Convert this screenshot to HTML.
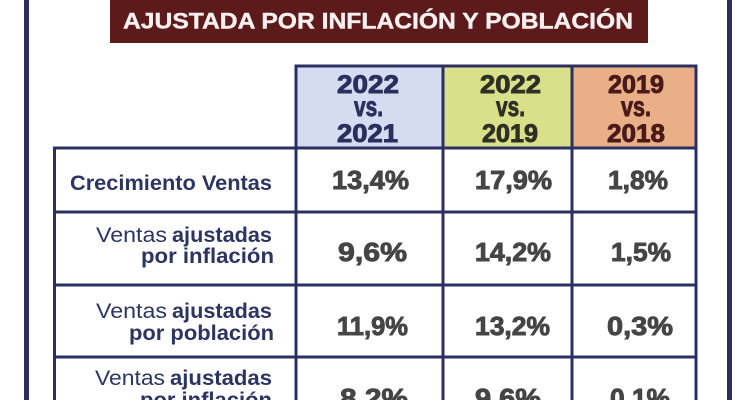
<!DOCTYPE html>
<html>
<head>
<meta charset="utf-8">
<style>
html,body{margin:0;padding:0;background:#ffffff;}
svg{display:block;}
text{font-family:"Liberation Sans",sans-serif;}
</style>
</head>
<body>
<svg width="750" height="400" viewBox="0 0 750 400" xmlns="http://www.w3.org/2000/svg">
  <rect x="0" y="0" width="750" height="400" fill="#ffffff"/>
  <!-- frame -->
  <rect x="24" y="0" width="5" height="400" fill="#2a2f5e"/>
  <rect x="727" y="0" width="5" height="400" fill="#2a2f5e"/>
  <!-- title -->
  <rect x="110" y="0" width="538" height="43" fill="#5c1a1a"/>
  <text x="123" y="28.5" font-size="22" font-weight="bold" fill="#f8f0f0" stroke="#f8f0f0" stroke-width="0.4" textLength="510" lengthAdjust="spacingAndGlyphs">AJUSTADA POR INFLACIÓN Y POBLACIÓN</text>

  <!-- header cells -->
  <rect x="296" y="66" width="147" height="82" fill="#d5dbf0"/>
  <rect x="443" y="66" width="129" height="82" fill="#d8e08a"/>
  <rect x="572" y="66" width="124" height="82" fill="#e9b088"/>

  <!-- grid lines -->
  <g stroke="#2b3060" stroke-width="3" fill="none">
    <line x1="294.5" y1="66" x2="697.5" y2="66"/>
    <line x1="53" y1="148" x2="697.5" y2="148"/>
    <line x1="53" y1="212" x2="697.5" y2="212"/>
    <line x1="53" y1="285" x2="697.5" y2="285"/>
    <line x1="53" y1="357" x2="697.5" y2="357"/>
    <line x1="54.5" y1="146.5" x2="54.5" y2="400"/>
    <line x1="296" y1="64.5" x2="296" y2="400"/>
    <line x1="443" y1="64.5" x2="443" y2="400"/>
    <line x1="572" y1="64.5" x2="572" y2="400"/>
    <line x1="696" y1="64.5" x2="696" y2="400"/>
  </g>

  <!-- header text -->
  <g font-size="25" font-weight="bold" stroke-width="0.9">
    <text x="337" y="93" fill="#2a2f5e" stroke="#2a2f5e" textLength="62" lengthAdjust="spacingAndGlyphs">2022</text>
    <text x="354" y="116" font-size="28" fill="#2a2f5e" stroke="#2a2f5e" textLength="29" lengthAdjust="spacingAndGlyphs">vs.</text>
    <text x="337" y="142" fill="#2a2f5e" stroke="#2a2f5e" textLength="61" lengthAdjust="spacingAndGlyphs">2021</text>

    <text x="480" y="93" fill="#2f3025" stroke="#2f3025" textLength="61" lengthAdjust="spacingAndGlyphs">2022</text>
    <text x="496" y="116" font-size="28" fill="#2f3025" stroke="#2f3025" textLength="29" lengthAdjust="spacingAndGlyphs">vs.</text>
    <text x="482" y="142" fill="#2f3025" stroke="#2f3025" textLength="56" lengthAdjust="spacingAndGlyphs">2019</text>

    <text x="608" y="93" fill="#4a1a1a" stroke="#4a1a1a" textLength="56" lengthAdjust="spacingAndGlyphs">2019</text>
    <text x="621" y="116" font-size="28" fill="#4a1a1a" stroke="#4a1a1a" textLength="30" lengthAdjust="spacingAndGlyphs">vs.</text>
    <text x="607" y="142" fill="#4a1a1a" stroke="#4a1a1a" textLength="58" lengthAdjust="spacingAndGlyphs">2018</text>
  </g>

  <!-- values -->
  <g font-size="26" font-weight="bold" fill="#454545" stroke="#454545" stroke-width="0.9">
    <text x="332" y="189" textLength="77" lengthAdjust="spacingAndGlyphs">13,4%</text>
    <text x="475" y="189" textLength="77" lengthAdjust="spacingAndGlyphs">17,9%</text>
    <text x="608" y="189" textLength="60" lengthAdjust="spacingAndGlyphs">1,8%</text>

    <text x="338" y="261" textLength="69" lengthAdjust="spacingAndGlyphs">9,6%</text>
    <text x="475" y="261" textLength="76" lengthAdjust="spacingAndGlyphs">14,2%</text>
    <text x="611" y="261" textLength="60" lengthAdjust="spacingAndGlyphs">1,5%</text>

    <text x="337" y="335" textLength="71" lengthAdjust="spacingAndGlyphs">11,9%</text>
    <text x="475" y="335" textLength="75" lengthAdjust="spacingAndGlyphs">13,2%</text>
    <text x="607" y="335" textLength="66" lengthAdjust="spacingAndGlyphs">0,3%</text>

    <text x="340" y="407" textLength="68" lengthAdjust="spacingAndGlyphs">8,2%</text>
    <text x="475" y="407" textLength="66" lengthAdjust="spacingAndGlyphs">9,6%</text>
    <text x="610" y="407" textLength="60" lengthAdjust="spacingAndGlyphs">0,1%</text>
  </g>

  <!-- row labels -->
  <g font-size="21" fill="#2c3562">
    <text x="70" y="190" font-weight="bold" textLength="202" lengthAdjust="spacingAndGlyphs">Crecimiento Ventas</text>

    <text x="96" y="242" textLength="71" lengthAdjust="spacingAndGlyphs">Ventas</text>
    <text x="172" y="242" font-weight="bold" textLength="100" lengthAdjust="spacingAndGlyphs">ajustadas</text>
    <text x="141" y="263" font-weight="bold" textLength="133" lengthAdjust="spacingAndGlyphs">por inflación</text>

    <text x="96" y="318" textLength="71" lengthAdjust="spacingAndGlyphs">Ventas</text>
    <text x="172" y="318" font-weight="bold" textLength="100" lengthAdjust="spacingAndGlyphs">ajustadas</text>
    <text x="129" y="340" font-weight="bold" textLength="145" lengthAdjust="spacingAndGlyphs">por población</text>

    <text x="95" y="385" textLength="70" lengthAdjust="spacingAndGlyphs">Ventas</text>
    <text x="170" y="385" font-weight="bold" textLength="102" lengthAdjust="spacingAndGlyphs">ajustadas</text>
    <text x="140" y="407" font-weight="bold" textLength="132" lengthAdjust="spacingAndGlyphs">por inflación</text>
  </g>
</svg>
</body>
</html>
